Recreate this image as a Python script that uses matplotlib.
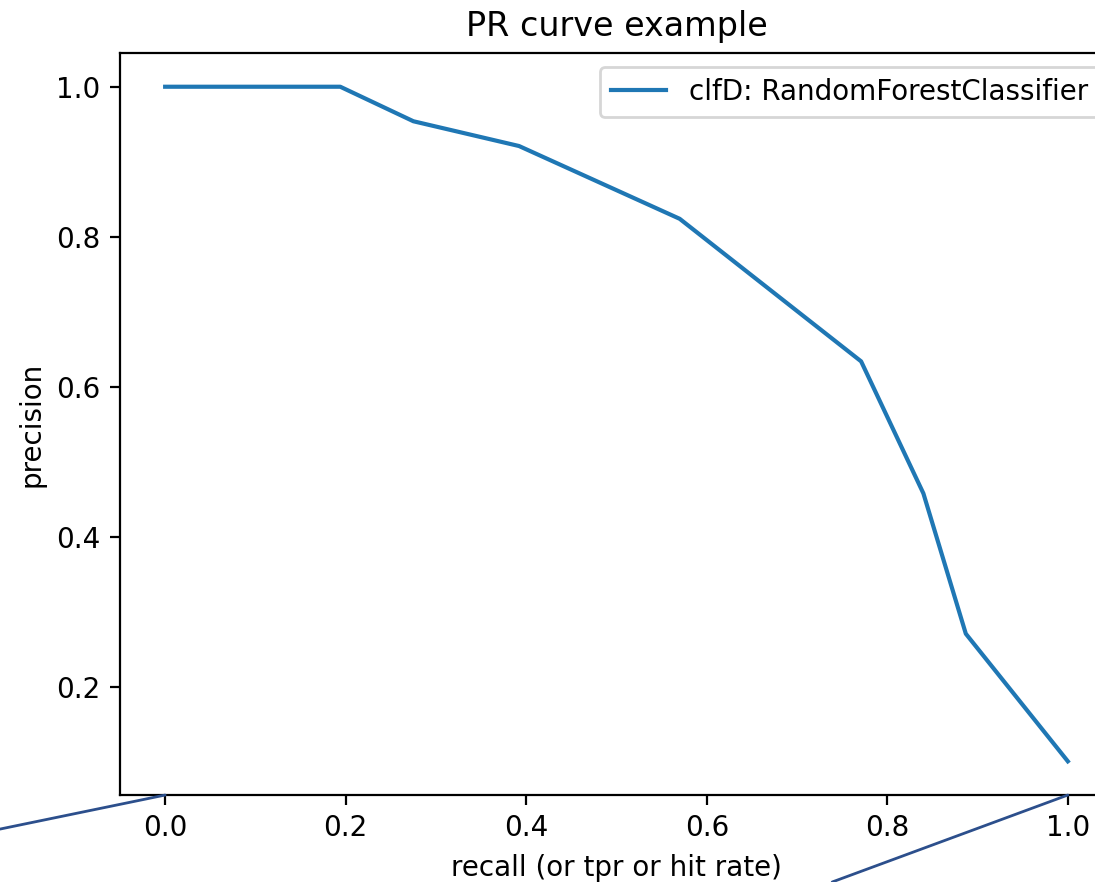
import numpy as np
import matplotlib
matplotlib.use("Agg")
import matplotlib.pyplot as plt
from matplotlib.patches import ConnectionPatch

# values
recall = [0.0, 0.194, 0.275, 0.392, 0.570, 0.771, 0.840, 0.887, 1.0]
precision = [1.0, 1.0, 0.954, 0.921, 0.824, 0.634, 0.458, 0.271, 0.101]
label = "clfD: RandomForestClassifier"

fig = plt.figure(figsize=(1095 / 200, 882 / 200), dpi=200)
# axes runs past the right edge, the reference is cropped there
ax = fig.add_axes([0.1096, 0.0986, 0.9068, 0.8413])

ax.plot(recall, precision, label=label)
ax.set_title("PR curve example")
ax.set_xlabel("recall (or tpr or hit rate)")
ax.set_ylabel("precision")
ax.legend(loc="upper right")

# the two callout lines drawn over the picture
col = "#2c4f8c"
for start, xd in [((0.0, 0.060), 0.0), ((0.760, 0.0), 1.0)]:
    con = ConnectionPatch(xyA=start, coordsA="figure fraction",
                          xyB=(xd, 0.0), coordsB=ax.get_xaxis_transform(),
                          color=col, linewidth=1.0)
    fig.add_artist(con)

fig.savefig("out.png", dpi=200)
